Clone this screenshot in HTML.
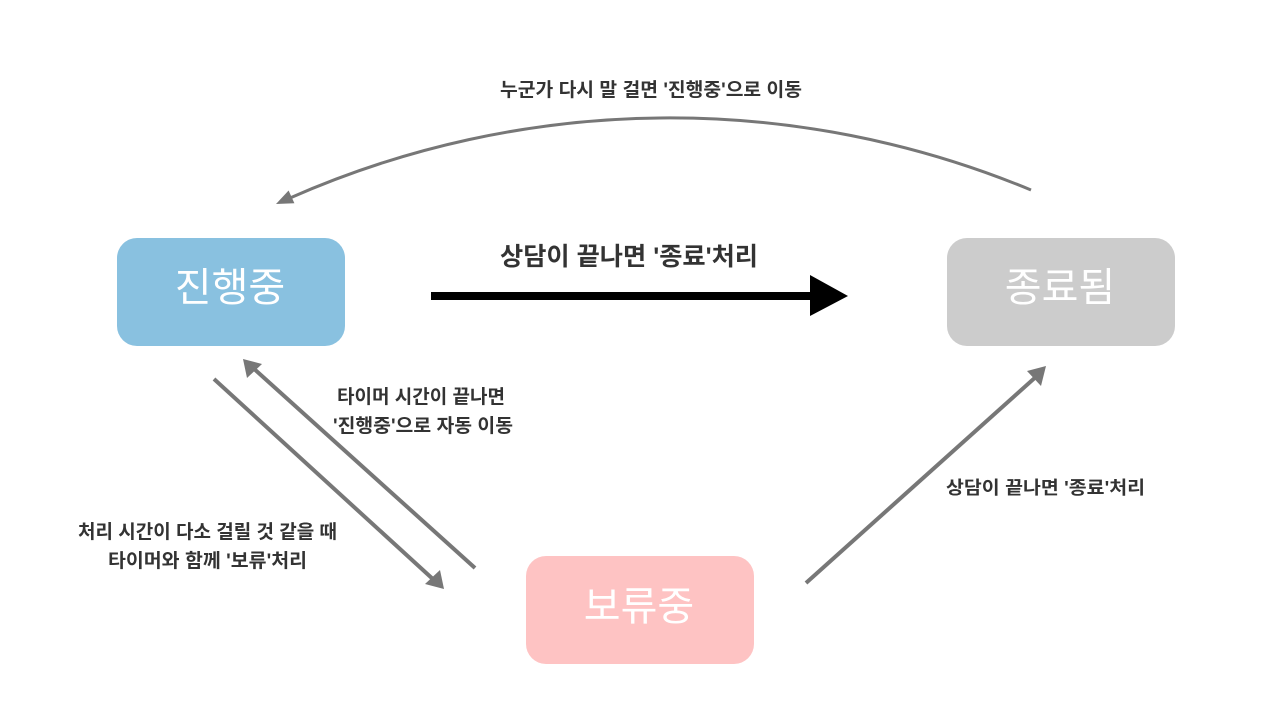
<!DOCTYPE html>
<html>
<head>
<meta charset="utf-8">
<style>
  html,body{margin:0;padding:0;background:#fff;}
  body{width:1280px;height:720px;overflow:hidden;}
  svg{display:block;}
  .lbl{font-family:"Liberation Sans","Noto Sans CJK KR","NanumGothic",sans-serif;font-weight:700;fill:#333;}
  .box{font-family:"Liberation Sans","Noto Sans CJK KR","NanumGothic",sans-serif;font-weight:400;fill:#fff;font-size:40px;}
</style>
</head>
<body>
<svg width="1280" height="720" viewBox="0 0 1280 720" xmlns="http://www.w3.org/2000/svg">
  <rect width="1280" height="720" fill="#fff"/>

  <!-- boxes -->
  <rect x="117" y="238" width="228" height="108" rx="20" ry="20" fill="#89c1e0"/>
  <rect x="947" y="238" width="228" height="108" rx="20" ry="20" fill="#cccccc"/>
  <rect x="526" y="556" width="228" height="108" rx="20" ry="20" fill="#fec3c3"/>

  <text class="box" x="230" y="301" text-anchor="middle">진행중</text>
  <text class="box" x="1060" y="301" text-anchor="middle">종료됨</text>
  <text class="box" x="639" y="620" text-anchor="middle">보류중</text>

  <!-- top arc -->
  <path d="M1031,190 A940.7,940.7 0 0 0 290,198" fill="none" stroke="#777" stroke-width="3"/>
  <polygon points="276,204 294.4,203.3 288.6,190.5" fill="#777"/>

  <!-- main arrow -->
  <rect x="431" y="292" width="380" height="8" fill="#000"/>
  <polygon points="810,275 848,296 810,316" fill="#000"/>

  <!-- diagonal up-left -->
  <line x1="475" y1="568" x2="252" y2="367" stroke="#777" stroke-width="4"/>
  <polygon points="243,359 247,378 262,364" fill="#777"/>

  <!-- diagonal down-right -->
  <line x1="214" y1="379" x2="435" y2="581" stroke="#777" stroke-width="4"/>
  <polygon points="444,589 440,570 425,584" fill="#777"/>

  <!-- right diagonal -->
  <line x1="806" y1="583" x2="1038" y2="375" stroke="#777" stroke-width="4"/>
  <polygon points="1046,366 1027,371 1041,386" fill="#777"/>

  <!-- labels -->
  <text class="lbl" x="500" y="96" font-size="19" textLength="302" lengthAdjust="spacingAndGlyphs">누군가 다시 말 걸면 '진행중'으로 이동</text>
  <text class="lbl" x="500" y="265" font-size="25" textLength="258" lengthAdjust="spacingAndGlyphs">상담이 끝나면 '종료'처리</text>

  <text class="lbl" x="337" y="403" font-size="19" textLength="168" lengthAdjust="spacingAndGlyphs">타이머 시간이 끝나면</text>
  <text class="lbl" x="333" y="432" font-size="19" textLength="180" lengthAdjust="spacingAndGlyphs">'진행중'으로 자동 이동</text>

  <text class="lbl" x="78" y="538" font-size="19" textLength="259" lengthAdjust="spacingAndGlyphs">처리 시간이 다소 걸릴 것 같을 때</text>
  <text class="lbl" x="108" y="567" font-size="19" textLength="199" lengthAdjust="spacingAndGlyphs">타이머와 함께 '보류'처리</text>

  <text class="lbl" x="946" y="494" font-size="18" textLength="199" lengthAdjust="spacingAndGlyphs">상담이 끝나면 '종료'처리</text>
</svg>
</body>
</html>
